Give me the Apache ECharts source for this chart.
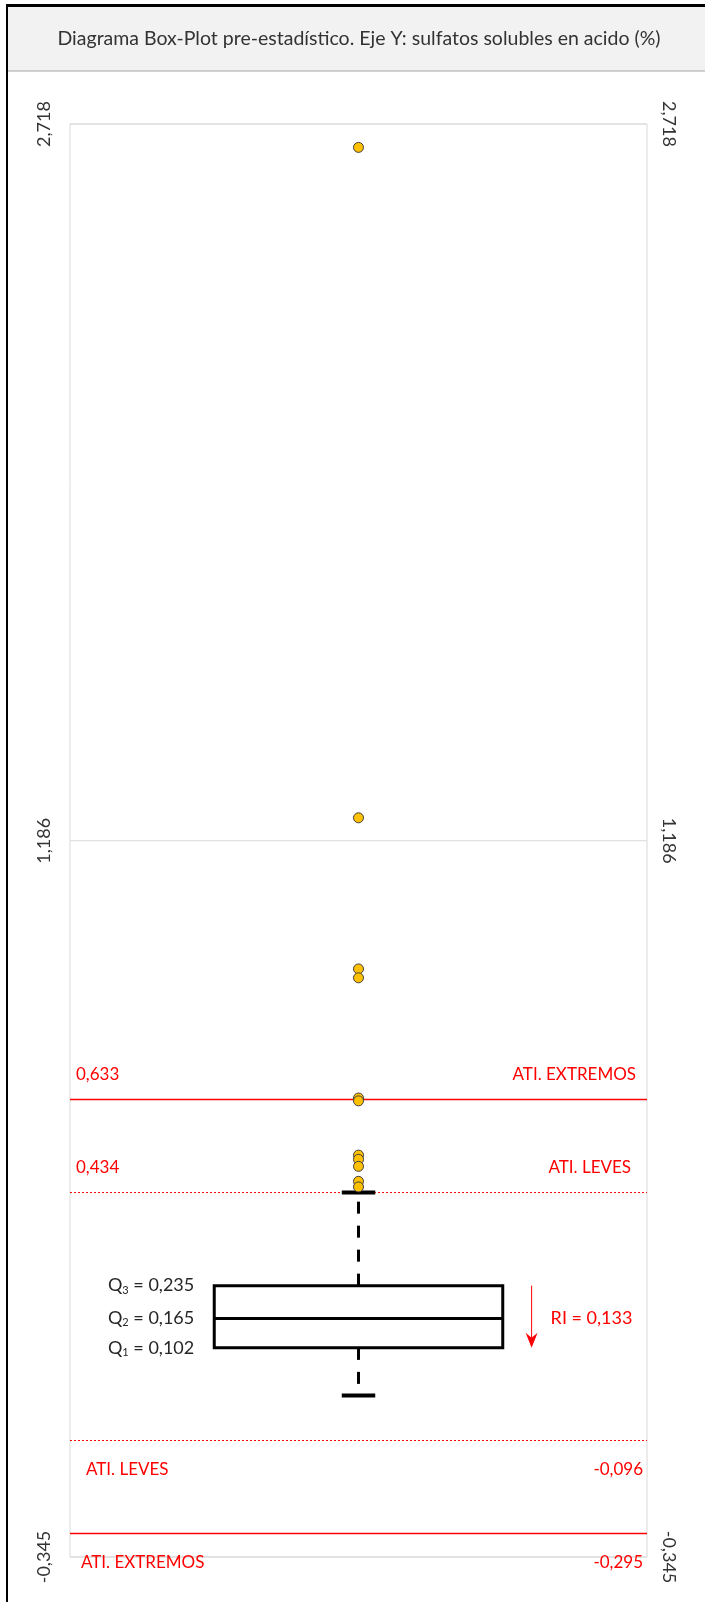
<!DOCTYPE html>
<html><head><meta charset="utf-8">
<script src="https://cdn.jsdelivr.net/npm/echarts@6/dist/echarts.min.js"></script>
<style>html,body{margin:0;padding:0;background:#fff}#c{width:705px;height:1602px}</style>
</head><body><div id="c"></div>
<script>
// ---- data ----
const TITLE = 'Diagrama Box-Plot pre-estadístico. Eje Y: sulfatos solubles en acido (%)';
const Y_MIN = -0.345;
const Y_MAX = 2.718;
const Y_TICKS = [-0.345, 1.186, 2.718];
const OUTLIERS = [2.668, 1.235, 0.912, 0.893, 0.636, 0.630, 0.514, 0.505, 0.490, 0.458, 0.446];
const QUARTILES = [0.102, 0.165, 0.235];          // Q1, Q2, Q3
const QUARTILE_SUBS = ['1', '2', '3'];
const WHISKERS = [0.000, 0.434];                  // lower, upper
const FENCE_VALUES = [0.633, 0.434, -0.096, -0.295];
const FENCE_NAMES = ['ATI. EXTREMOS', 'ATI. LEVES', 'ATI. LEVES', 'ATI. EXTREMOS'];
const RI = 0.133;

// ---- styles ----
const FONT = 'Lato';
const RED = '#ff0000';
const fmt = v => v.toFixed(3).replace('.', ',');
const FENCE_STYLE = [
  {dxL: 6, dxR: -11, dy: -25, solid: true, leftIsValue: true},
  {dxL: 6, dxR: -16, dy: -25, solid: false, leftIsValue: true},
  {dxL: 16, dxR: -4, dy: 29, solid: false, leftIsValue: false},
  {dxL: 11, dxR: -4, dy: 29, solid: true, leftIsValue: false}
];

const chart = echarts.init(document.getElementById('c'), null, {renderer: 'canvas'});

function renderAll(params, api) {
  const children = [];
  Y_TICKS.forEach(t => {
    const a = api.coord([0, t]), b = api.coord([1, t]);
    children.push({type: 'line', shape: {x1: a[0], y1: a[1], x2: b[0], y2: b[1]},
      style: {stroke: '#d9d9d9', lineWidth: 1}, z2: 0});
  });
  FENCE_VALUES.forEach((v, i) => {
    const s = FENCE_STYLE[i];
    const a = api.coord([0, v]), b = api.coord([1, v]);
    children.push({type: 'line', shape: {x1: a[0], y1: a[1], x2: b[0], y2: b[1]},
      style: {stroke: RED, lineWidth: s.solid ? 1.5 : 1, lineDash: s.solid ? null : [2, 2]}, z2: 1});
    const leftText = s.leftIsValue ? fmt(v) : FENCE_NAMES[i];
    const rightText = s.leftIsValue ? FENCE_NAMES[i] : fmt(v);
    children.push({type: 'text', x: a[0] + s.dxL, y: a[1] + s.dy,
      style: {text: leftText, fill: RED, font: '17px ' + FONT, textAlign: 'left', textVerticalAlign: 'middle'}});
    children.push({type: 'text', x: b[0] + s.dxR, y: b[1] + s.dy,
      style: {text: rightText, fill: RED, font: '17px ' + FONT, textAlign: 'right', textVerticalAlign: 'middle'}});
  });
  const [q1, q2, q3] = QUARTILES;
  const tl = api.coord([0.25, q3]), br = api.coord([0.75, q1]);
  const mL = api.coord([0.25, q2]), mR = api.coord([0.75, q2]);
  const c3 = api.coord([0.5, q3]), c1 = api.coord([0.5, q1]);
  const hi = api.coord([0.5, WHISKERS[1]]), lo = api.coord([0.5, WHISKERS[0]]);
  const capL = api.coord([0.471, 0]), capR = api.coord([0.529, 0]);
  children.push({type: 'line', shape: {x1: c3[0], y1: c3[1], x2: hi[0], y2: hi[1]},
    style: {stroke: '#000', lineWidth: 3, lineDash: [12, 12]}, z2: 2});
  children.push({type: 'line', shape: {x1: c1[0], y1: c1[1], x2: lo[0], y2: lo[1]},
    style: {stroke: '#000', lineWidth: 3, lineDash: [12, 12]}, z2: 2});
  children.push({type: 'line', shape: {x1: capL[0], y1: hi[1], x2: capR[0], y2: hi[1]},
    style: {stroke: '#000', lineWidth: 4}, z2: 3});
  children.push({type: 'line', shape: {x1: capL[0], y1: lo[1], x2: capR[0], y2: lo[1]},
    style: {stroke: '#000', lineWidth: 4}, z2: 3});
  children.push({type: 'rect', shape: {x: tl[0], y: tl[1], width: br[0] - tl[0], height: br[1] - tl[1]},
    style: {fill: '#fff', stroke: '#000', lineWidth: 3}, z2: 3});
  children.push({type: 'line', shape: {x1: mL[0], y1: mL[1], x2: mR[0], y2: mR[1]},
    style: {stroke: '#000', lineWidth: 3}, z2: 4});
  QUARTILES.forEach((q, i) => {
    const p = api.coord([0.25, q]);
    children.push({type: 'text', x: p[0] - 20, y: p[1],
      style: {text: '{n|Q}{s|' + QUARTILE_SUBS[i] + '}{n| = ' + fmt(q) + '}',
        textAlign: 'right', textVerticalAlign: 'middle',
        rich: {
          n: {fontFamily: FONT, fontSize: 18, fill: '#262626', color: '#262626', lineHeight: 20},
          s: {fontFamily: FONT, fontSize: 11, fill: '#262626', color: '#262626', verticalAlign: 'bottom', lineHeight: 12}
        }}});
  });
  const aTop = api.coord([0.8, q3]), aBot = api.coord([0.8, q1]);
  children.push({type: 'line', shape: {x1: aTop[0], y1: aTop[1], x2: aBot[0], y2: aBot[1] - 8},
    style: {stroke: RED, lineWidth: 1}});
  children.push({type: 'polygon', shape: {points: [[aBot[0] - 6, aBot[1] - 15], [aBot[0], aBot[1] - 10], [aBot[0] + 6, aBot[1] - 15], [aBot[0], aBot[1]]]},
    style: {fill: RED}});
  const mid = api.coord([0.8, q2]);
  children.push({type: 'text', x: mid[0] + 19, y: mid[1],
    style: {text: 'RI = ' + fmt(RI), fill: RED, font: '18px ' + FONT, textAlign: 'left', textVerticalAlign: 'middle'}});
  return {type: 'group', children};
}

const yAxisBase = {
  type: 'value', min: Y_MIN, max: Y_MAX,
  axisLine: {show: false}, axisTick: {show: false}, splitLine: {show: false}
};

chart.setOption({
  animation: false,
  backgroundColor: '#fff',
  title: {
    text: TITLE, left: 359, textAlign: 'center', top: 29, padding: 0,
    textStyle: {fontFamily: FONT, fontSize: 19.5, fontWeight: 'normal', color: '#333333'}
  },
  graphic: [
    {type: 'rect', shape: {x: 7, y: 6, width: 705, height: 65}, style: {fill: '#f2f2f2'}, z: -10},
    {type: 'line', shape: {x1: 7, y1: 71, x2: 705, y2: 71}, style: {stroke: '#a6a6a6', lineWidth: 1}, z: -9},
    {type: 'line', shape: {x1: 6, y1: 5.5, x2: 705, y2: 5.5}, style: {stroke: '#000', lineWidth: 3}, z: 10},
    {type: 'line', shape: {x1: 7, y1: 5, x2: 7, y2: 1602}, style: {stroke: '#000', lineWidth: 2}, z: 10}
  ],
  grid: {left: 70, right: 58, top: 124, bottom: 45, show: true, borderColor: '#d9d9d9', borderWidth: 1},
  xAxis: {type: 'value', min: 0, max: 1, show: false},
  yAxis: [
    Object.assign({}, yAxisBase, {position: 'left',
      axisLabel: {customValues: Y_TICKS, rotate: 90, margin: 17, formatter: fmt,
        fontFamily: FONT, fontSize: 18, color: '#333333'}}),
    Object.assign({}, yAxisBase, {position: 'right',
      axisLabel: {customValues: Y_TICKS, rotate: -90, margin: 13, formatter: fmt,
        fontFamily: FONT, fontSize: 18, color: '#333333'}})
  ],
  series: [
    {type: 'custom', renderItem: renderAll, data: [[0.5, 0]], encode: {x: 0, y: 1}, z: 2, silent: true},
    {type: 'scatter', data: OUTLIERS.map(v => [0.5, v]), symbol: 'circle', symbolSize: 10,
      itemStyle: {color: '#ffc000', borderColor: '#404040', borderWidth: 1, opacity: 1}, z: 5}
  ]
});
</script></body></html>
